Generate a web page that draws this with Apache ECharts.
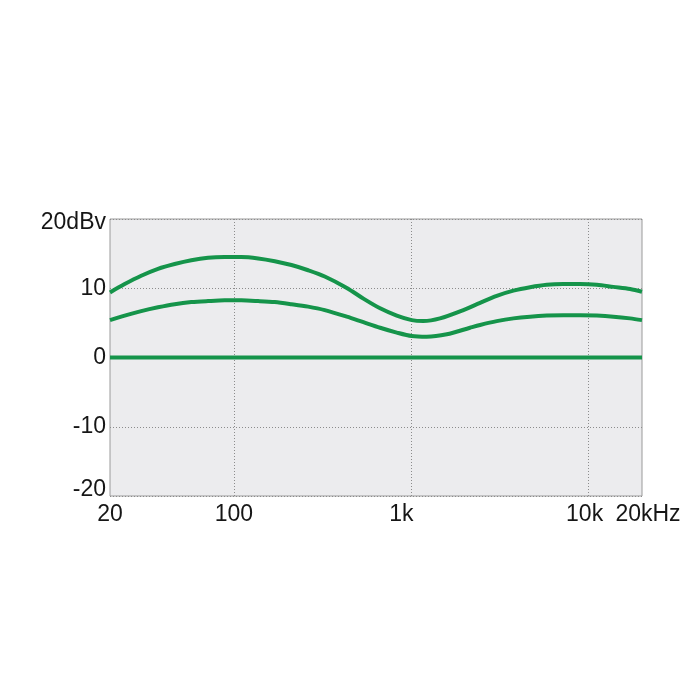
<!DOCTYPE html>
<html>
<head>
<meta charset="utf-8">
<script src="https://cdn.jsdelivr.net/npm/echarts@6/dist/echarts.min.js"></script>
<style>html,body{margin:0;padding:0;background:#fff}#c{width:700px;height:700px}</style>
</head>
<body>
<div id="c"></div>
<script>
const freqsUpper = [20,24.2,30,37.3,46.3,57.5,71.4,88.7,110,137,170,211,262,325,433,537,667,828,1006,1170,1452,1966,2444,3034,3765,4676,5808,7208,8950,11118,13798,17136,20000];
const upper      = [9.4,10.6,11.8,12.8,13.5,14.05,14.4,14.5,14.5,14.3,13.9,13.35,12.6,11.7,10.05,8.5,7.1,6.05,5.4,5.27,5.65,6.85,7.9,8.9,9.65,10.15,10.5,10.6,10.6,10.5,10.2,9.9,9.5];
const freqsLower = [20,24.2,30,37.3,46.3,57.5,71.4,88.7,110,137,170,211,262,325,433,537,667,828,1006,1222,1586,2144,2444,3034,3765,4676,5808,7208,8950,11118,13798,17136,20000];
const lower      = [5.4,6.05,6.7,7.25,7.7,8.0,8.15,8.25,8.25,8.15,8.0,7.7,7.35,6.85,5.9,5.1,4.3,3.6,3.1,3.0,3.35,4.3,4.7,5.25,5.65,5.9,6.05,6.1,6.1,6.05,5.9,5.65,5.4];
const flatFreqs = [20,20000];
const flat = [0,0];
const xTickValues = [20,100,1000,10000,20000];
const xTickLabels = ['20','100','{k|1k}','{tk|10k}','{hz|20kHz}'];
const xGridValues = [100,1000,10000];
const yTickLabels = {'-20':'{lo|-20}','-10':'-10','0':'0','10':'10','20':'{hi|20dBv}'};

const green = '#15944a';
const font = '"Liberation Sans", Arial, Helvetica, sans-serif';
const txt = '#161616';
const pair = (xs, ys) => xs.map((x,i)=>[x, ys[i]]);
const rs = (p) => ({padding:p, color:txt, fontFamily:font, fontSize:23});

const chart = echarts.init(document.getElementById('c'), null, {renderer:'canvas'});
chart.setOption({
  animation:false,
  backgroundColor:'#ffffff',
  grid:{left:110,right:58,top:219,bottom:204,show:true,backgroundColor:'#ececee',borderColor:'#9a9a9a',borderWidth:1},
  xAxis:{
    type:'log', logBase:10, min:20, max:20000,
    axisLine:{show:false}, axisTick:{show:false},
    splitLine:{show:false}, minorSplitLine:{show:false},
    axisLabel:{
      customValues:xTickValues,
      formatter:(v)=>{const i=xTickValues.findIndex(t=>Math.abs(t-v)/t<1e-6);return i>=0?xTickLabels[i]:'';},
      color:txt, fontFamily:font, fontSize:23, margin:7,
      showMinLabel:true, showMaxLabel:true, hideOverlap:false,
      rich:{k:rs([0,20,0,0]), tk:rs([0,8,0,0]), hz:rs([0,0,0,12])}
    }
  },
  yAxis:{
    type:'value', min:-20, max:20, interval:10,
    axisLine:{show:false}, axisTick:{show:false},
    splitLine:{show:true, lineStyle:{color:'#8c8c8c', type:[1,2], width:1}},
    axisLabel:{formatter:(v)=>yTickLabels[String(v)], color:txt, fontFamily:font, fontSize:23, margin:4,
      rich:{hi:rs([8,0,0,0]), lo:rs([0,0,12,0])}}
  },
  series:[
    {type:'line', data:pair(flatFreqs, flat), showSymbol:false, lineStyle:{color:green,width:4}, z:3,
     markLine:{silent:true, symbol:'none', label:{show:false}, z:1,
       lineStyle:{color:'#8c8c8c', type:[1,2], width:1},
       data:xGridValues.map(v=>({xAxis:v}))}},
    {type:'line', data:pair(freqsLower, lower), smooth:0.3, showSymbol:false, lineStyle:{color:green,width:4}, z:3},
    {type:'line', data:pair(freqsUpper, upper), smooth:0.3, showSymbol:false, lineStyle:{color:green,width:4}, z:3}
  ]
});
</script>
</body>
</html>
